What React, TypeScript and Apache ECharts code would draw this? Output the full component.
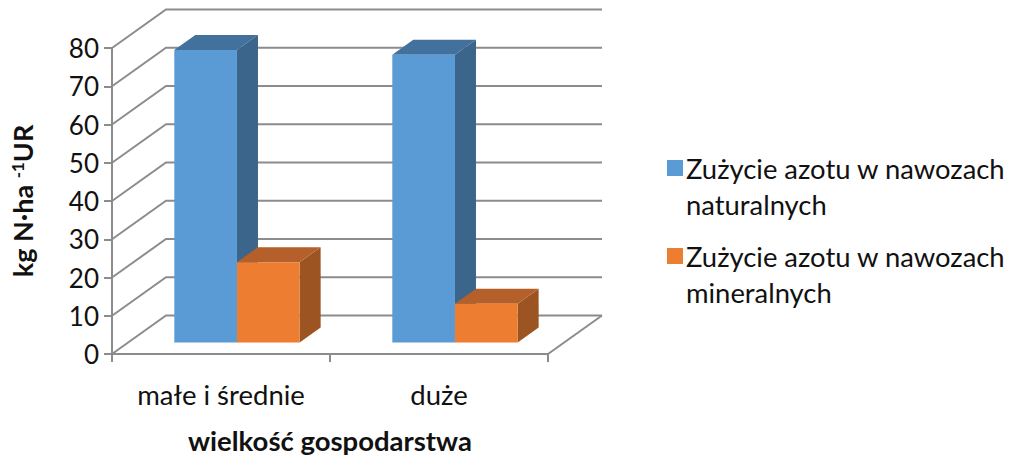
import React, { useEffect, useRef } from "react";
import * as echarts from "echarts";

const categories = ["małe i średnie", "duże"];
const seriesNames = ["Zużycie azotu w nawozach\nnaturalnych", "Zużycie azotu w nawozach\nmineralnych"];
const naturalne = [76.5, 75.2];
const mineralne = [21, 10.1];
const yTicks = [0, 10, 20, 30, 40, 50, 60, 70, 80];
const FONT = "Lato";
const GRID_COLOR = "#8c8c8c";
const DEPTH_X = 54;
const DEPTH_Y = 38.5;
const BAR_DX = 21;
const BAR_DY = 15;
const BASE_LIFT = 11.5;

const barSeries = (name: string, values: number[], slot: number, front: string, top: string, side: string) => ({
  type: "custom",
  name,
  itemStyle: { color: front },
  z: 5,
  encode: { x: 0, y: 1 },
  data: values.map((v, i) => [i, v]),
  renderItem: (_p: any, api: any) => {
    const band = api.size([1, 0])[0];
    const w = band * 0.2875;
    const c = api.coord([api.value(0), api.value(1)]);
    const z = api.coord([api.value(0), 0]);
    const x0 = c[0] - band * 0.2142 + slot * w;
    const x1 = x0 + w;
    const y0 = c[1] - BASE_LIFT;
    const y1 = z[1] - BASE_LIFT;
    return {
      type: "group",
      children: [
        { type: "polygon", shape: { points: [[x1, y0], [x1 + BAR_DX, y0 - BAR_DY], [x1 + BAR_DX, y1 - BAR_DY], [x1, y1]] }, style: { fill: side } },
        { type: "polygon", shape: { points: [[x0, y0], [x0 + BAR_DX, y0 - BAR_DY], [x1 + BAR_DX, y0 - BAR_DY], [x1, y0]] }, style: { fill: top } },
        { type: "rect", shape: { x: x0, y: y0, width: w, height: y1 - y0 }, style: { fill: front } },
      ],
    };
  },
});

export default function App() {
  const ref = useRef<HTMLDivElement>(null);
  useEffect(() => {
    document.body.style.margin = "0";
    const chart = echarts.init(ref.current!, undefined, { renderer: "svg" });
    chart.setOption({
      animation: false,
      backgroundColor: "#ffffff",
      textStyle: { fontFamily: FONT },
      grid: { left: 112, top: 48, width: 436, height: 306 },
      legend: {
        orient: "vertical",
        left: 662,
        top: 145,
        itemWidth: 16,
        itemHeight: 52,
        itemGap: 16,
        icon: "path://M0 0H16V16H0ZM0 52L16 52Z",
        selectedMode: false,
        data: seriesNames,
        textStyle: { fontFamily: FONT, fontSize: 27.4, color: "#111", lineHeight: 36, padding: [0, 0, 0, -2] },
      },
      xAxis: {
        type: "category",
        data: categories,
        axisLine: { lineStyle: { color: GRID_COLOR, width: 2 } },
        axisTick: { show: true, interval: 0, alignWithLabel: false, length: 8, lineStyle: { color: GRID_COLOR, width: 2 } },
        axisLabel: { interval: 0, fontFamily: FONT, fontSize: 27.5, color: "#111", margin: 26 },
        name: "wielkość gospodarstwa",
        nameLocation: "middle",
        nameGap: 72,
        nameTextStyle: { fontFamily: FONT, fontSize: 27.5, fontWeight: "bold", color: "#111" },
      },
      yAxis: {
        type: "value",
        min: 0,
        max: 80,
        interval: 10,
        axisLine: { show: true, lineStyle: { color: GRID_COLOR, width: 2 } },
        axisTick: { show: true, length: 8, lineStyle: { color: GRID_COLOR, width: 2 } },
        splitLine: { show: false },
        axisLabel: { fontFamily: FONT, fontSize: 26, color: "#111", margin: 13 },
        name: "{b|kg N·ha }{s|-1}{b|UR}",
        nameLocation: "middle",
        nameRotate: 90,
        nameGap: 76,
        nameTextStyle: {
          rich: {
            b: { fontFamily: FONT, fontSize: 27, fontWeight: "bold", color: "#111" },
            s: { fontFamily: FONT, fontSize: 17, fontWeight: "bold", color: "#111", verticalAlign: "top", padding: [0, 0, 10, 0] },
          },
        },
      },
      series: [
        {
          type: "custom",
          silent: true,
          z: 1,
          encode: { x: 0, y: 1 },
          data: yTicks.map((t) => [0, t]),
          renderItem: (p: any, api: any) => {
            const cs = p.coordSys;
            const y = api.coord([0, api.value(1)])[1];
            const left = cs.x;
            const right = cs.x + cs.width;
            const line = { type: "polyline", shape: { points: [[left, y], [left + DEPTH_X, y - DEPTH_Y], [right + DEPTH_X, y - DEPTH_Y]] }, style: { stroke: GRID_COLOR, lineWidth: 2, fill: "none" } };
            if (api.value(1) !== 0) return line;
            return {
              type: "group",
              children: [line, { type: "polyline", shape: { points: [[right, y], [right + DEPTH_X, y - DEPTH_Y]] }, style: { stroke: GRID_COLOR, lineWidth: 2, fill: "none" } }],
            };
          },
        },
        barSeries(seriesNames[0], naturalne, 0, "#5B9BD5", "#41719C", "#3B658B"),
        barSeries(seriesNames[1], mineralne, 1, "#ED7D31", "#B5602A", "#9C5423"),
      ],
    });
    return () => chart.dispose();
  }, []);
  return <div ref={ref} style={{ position: "absolute", left: 0, top: 0, width: 1024, height: 465 }} />;
}
